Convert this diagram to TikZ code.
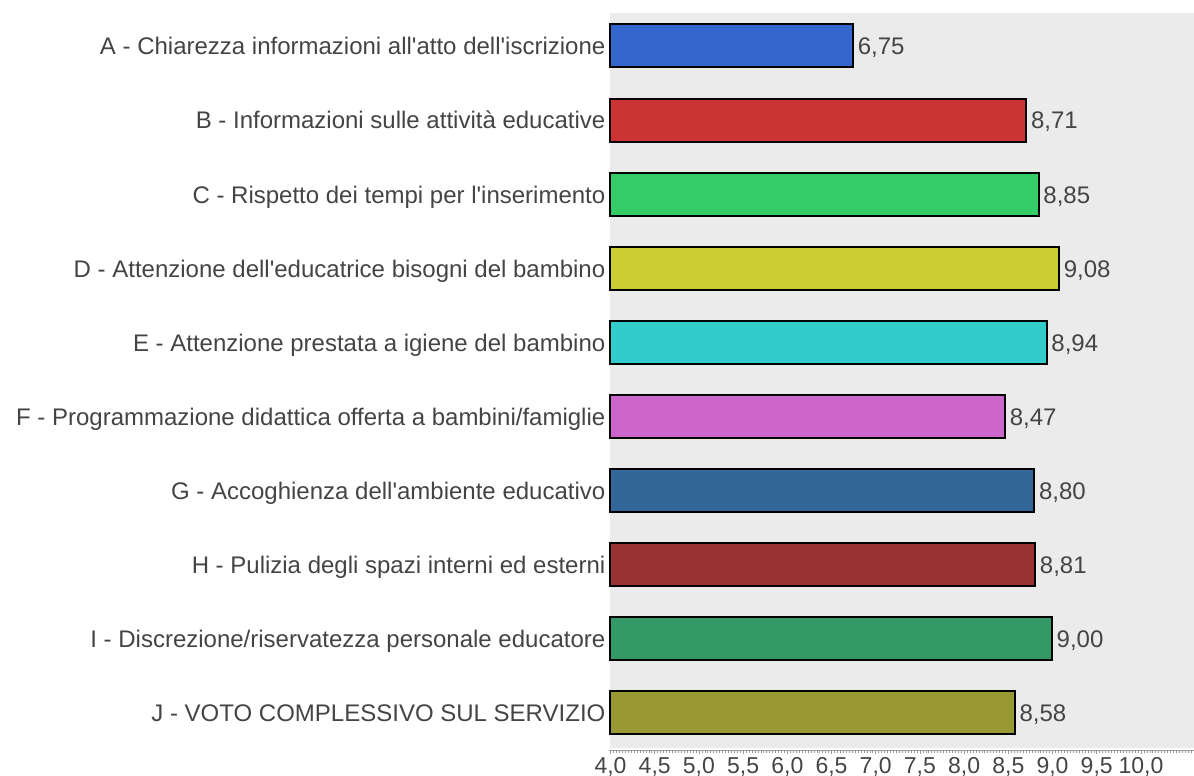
\documentclass[tikz,border=0pt]{standalone}
\usepackage{fontspec}
\newfontfamily\lsans{Liberation Sans}
\definecolor{txt}{HTML}{444444}
\definecolor{plotbg}{HTML}{EBEBEB}
\definecolor{cA}{HTML}{3366CC}
\definecolor{cB}{HTML}{CC3333}
\definecolor{cC}{HTML}{33CC66}
\definecolor{cD}{HTML}{CCCC33}
\definecolor{cE}{HTML}{33CCCC}
\definecolor{cF}{HTML}{CC66CC}
\definecolor{cG}{HTML}{336699}
\definecolor{cH}{HTML}{993333}
\definecolor{cI}{HTML}{339966}
\definecolor{cJ}{HTML}{999933}
\tikzset{
  catlabel/.style={anchor=base east, inner sep=0pt, text=txt, font=\lsans\fontsize{24}{28}\selectfont},
  vallabel/.style={anchor=base west, inner sep=0pt, text=txt, font=\lsans\fontsize{24}{28}\selectfont},
  axlabel/.style={anchor=base, inner sep=0pt, text=txt, font=\lsans\fontsize{23}{26}\selectfont},
  barbox/.style={draw=black, line width=2pt},
}
\begin{document}
\begin{tikzpicture}[x=1pt, y=-1pt]
\useasboundingbox (0,0) rectangle (1194,776);
\fill[plotbg] (610,13) rectangle (1194,748);
% axis
\draw[gray!80, line width=1pt] (609,750) -- (1194,750);
\foreach \i in {0,...,198} {
  \draw[gray!80, line width=0.6pt] ({610.5+\i*2.947},750) -- ++(0,2.5);
}
\foreach \i/\lab in {0/{4,0},1/{4,5},2/{5,0},3/{5,5},4/{6,0},5/{6,5},6/{7,0},7/{7,5},8/{8,0},9/{8,5},10/{9,0},11/{9,5},12/{10,0}} {
  \draw[gray!80, line width=0.8pt] ({610.5+\i*44.2},750) -- ++(0,4);
  \node[axlabel] (ax\i) at ({610.5+\i*44.2},773) {\lab};
}
% bars
\foreach \k/\v/\vl/\c/\lab [count=\n from 0] in {
  A/6.75/{6,75}/cA/{A - Chiarezza informazioni all'atto dell'iscrizione},
  B/8.71/{8,71}/cB/{B - Informazioni sulle attività educative},
  C/8.85/{8,85}/cC/{C - Rispetto dei tempi per l'inserimento},
  D/9.08/{9,08}/cD/{D - Attenzione dell'educatrice bisogni del bambino},
  E/8.94/{8,94}/cE/{E - Attenzione prestata a igiene del bambino},
  F/8.47/{8,47}/cF/{F - Programmazione didattica offerta a bambini/famiglie},
  G/8.80/{8,80}/cG/{G - Accoghienza dell'ambiente educativo},
  H/8.81/{8,81}/cH/{H - Pulizia degli spazi interni ed esterni},
  I/9.00/{9,00}/cI/{I - Discrezione/riservatezza personale educatore},
  J/8.58/{8,58}/cJ/{J - VOTO COMPLESSIVO SUL SERVIZIO}} {
  \pgfmathsetmacro{\yc}{46+\n*74.1}
  \pgfmathsetmacro{\xe}{610+(\v-4)*88.4}
  \draw[barbox, fill=\c] (610,\yc-21.5) rectangle (\xe,\yc+21.5);
  \node[catlabel] (lab\k) at (605.5,\yc+8.8) {\lab};
  \node[vallabel] (val\k) at (\xe+4.5,\yc+8.8) {\vl};
}
\end{tikzpicture}
\end{document}
